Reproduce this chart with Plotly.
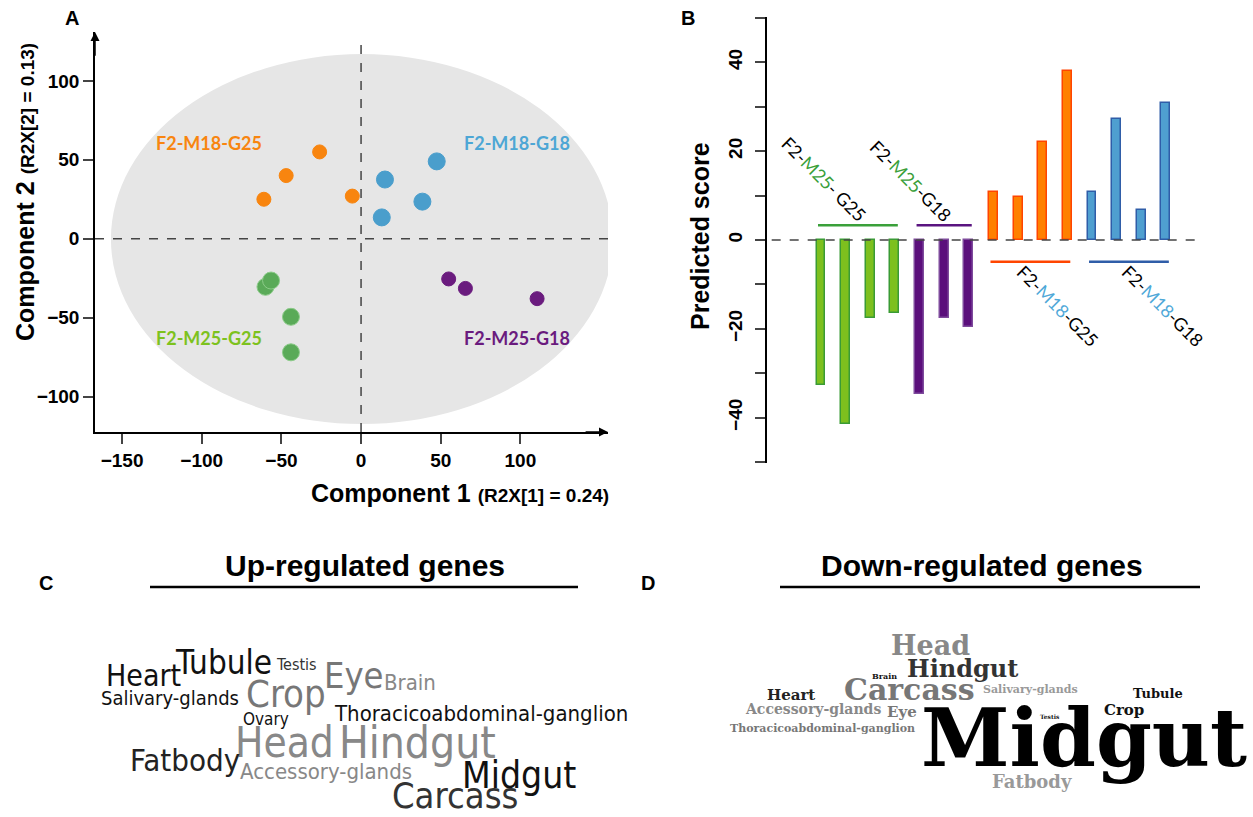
import plotly.graph_objects as go

# ---------------- Panel A data (PCA scores) ----------------
m18g25_c1 = [-61, -47, -26, -5.5]
m18g25_c2 = [25, 40, 55, 27]
m18g18_c1 = [15, 13, 38.5, 47.5]
m18g18_c2 = [37.5, 13.5, 23.5, 49]
m25g25_c1 = [-60, -56.5, -44, -44]
m25g25_c2 = [-30.5, -26.5, -49.5, -72]
m25g18_c1 = [55, 65.5, 110.5]
m25g18_c2 = [-25.5, -31.5, -38]
a_x_ticks = [-150, -100, -50, 0, 50, 100]
a_y_ticks = [-100, -50, 0, 50, 100]

# ---------------- Panel B data (predicted scores) ----------------
pred_m25g25 = [-32.7, -41.5, -17.5, -16.4]
pred_m25g18 = [-34.7, -17.5, -19.6]
pred_m18g25 = [10.7, 9.7, 22.0, 38.0]
pred_m18g18 = [10.7, 27.3, 6.7, 30.9]
b_y_ticks = [-50, -40, -30, -20, -10, 0, 10, 20, 30, 40, 50]
b_y_labels = ["", "\u221240", "", "\u221220", "", "0", "", "20", "", "40", ""]

# ---------------- Panel C / D data (word clouds) ----------------
up_words = ["Heart", "Tubule", "Testis", "Eye", "Brain", "Salivary-glands", "Crop", "Ovary",
            "Thoracicoabdominal-ganglion", "Head", "Hindgut", "Fatbody", "Accessory-glands",
            "Midgut", "Carcass"]
up_weights = [30, 33, 16, 36, 22, 20, 38, 17, 22, 42, 44, 31, 22, 37, 36]
down_words = ["Head", "Hindgut", "Brain", "Carcass", "Salivary-glands", "Tubule", "Heart",
              "Accessory-glands", "Eye", "Testis", "Crop", "Thoracicoabdominal-ganglion",
              "Midgut", "Fatbody"]
down_weights = [27, 24, 8, 30, 11, 13, 15, 14, 15, 6, 15, 11, 80, 18]

# ---------------- styles / layout ----------------
W, H = 1253, 817
def px(x, y):
    return x / W, 1 - y / H

ORANGE, BLUE, GREEN, PURPLE = "#F8850F", "#4A9ECC", "#5AAA58", "#6A1B7E"
ARIAL = "Arial, Liberation Sans, sans-serif"
CAL = "Lato, Open Sans, sans-serif"

fig = go.Figure()

# Panel A scatter
for xs, ys, col, size, lc in [
    (m18g25_c1, m18g25_c2, ORANGE, 14, ORANGE),
    (m18g18_c1, m18g18_c2, BLUE, 17, BLUE),
    (m25g25_c1, m25g25_c2, GREEN, 17, "#8CCB89"),
    (m25g18_c1, m25g18_c2, PURPLE, 14, PURPLE),
]:
    fig.add_trace(go.Scatter(x=xs, y=ys, mode="markers", xaxis="x", yaxis="y",
                             marker=dict(color=col, size=size, line=dict(color=lc, width=1)),
                             hoverinfo="skip"))

# Panel B bars
b_groups = [
    (pred_m25g25, "#7DC01E", "#3A9B35"),
    (pred_m25g18, "#5B0F7C", "#7E4A9C"),
    (pred_m18g25, "#FF8000", "#FF4500"),
    (pred_m18g18, "#4F9FD0", "#2F5DA8"),
]
group_lines = ["#3AA03A", "#5A1480", "#FF4500", "#2F5DA8"]
pos = 1
group_ranges = []
for vals, fillc, linec in b_groups:
    xs = list(range(pos, pos + len(vals)))
    group_ranges.append((xs[0], xs[-1]))
    pos += len(vals)
    fig.add_trace(go.Bar(x=xs, y=vals, xaxis="x2", yaxis="y2", width=0.36,
                         marker=dict(color=fillc, line=dict(color=linec, width=1.5)),
                         hoverinfo="skip"))

shapes = []
# ellipse (Hotelling T2)
shapes.append(dict(type="circle", xref="x", yref="y", x0=-157, x1=158, y0=-117.5, y1=117,
                   fillcolor="#E6E6E6", line=dict(width=0), layer="below"))
shapes.append(dict(type="line", xref="x", yref="y", x0=0, x1=0, y0=-122.5, y1=126,
                   line=dict(color="#444", width=1.5, dash="dash")))
shapes.append(dict(type="line", xref="x", yref="y", x0=-167, x1=155, y0=0, y1=0,
                   line=dict(color="#444", width=1.5, dash="dash")))
# panel B zero line
shapes.append(dict(type="line", xref="x2", yref="y2", x0=-1.0, x1=16.4, y0=0, y1=0,
                   line=dict(color="#444", width=1.5, dash="dash")))
# group lines
for (a, b), col, yv in zip(group_ranges, group_lines, [3.3, 3.3, -4.9, -4.9]):
    shapes.append(dict(type="line", xref="x2", yref="y2", x0=a - 0.12, x1=b + 0.12, y0=yv, y1=yv,
                       line=dict(color=col, width=2.5)))
# title underlines
for x0, x1 in [(150, 578), (780, 1200)]:
    shapes.append(dict(type="line", xref="paper", yref="paper",
                       x0=x0 / W, x1=x1 / W, y0=1 - 587 / H, y1=1 - 587 / H,
                       line=dict(color="black", width=2.5)))

ann = []
def A(x, y, text, size, color="black", family=ARIAL, angle=0, xanchor="center", yanchor="middle", weight=None):
    px_, py_ = px(x, y)
    f = dict(size=size, color=color, family=family)
    if weight:
        f["weight"] = weight
    ann.append(dict(x=px_, y=py_, xref="paper", yref="paper", text=text, showarrow=False,
                    font=f, textangle=angle, xanchor=xanchor, yanchor=yanchor))

# panel letters
A(72, 18, "<b>A</b>", 20)
A(688, 18, "<b>B</b>", 20)
A(46, 583, "<b>C</b>", 20)
A(648, 583, "<b>D</b>", 20)

# Panel A axis titles
A(460, 493, "<b>Component 1</b> <span style='font-size:19px'><b>(R2X[1] = 0.24)</b></span>", 25)
A(25, 192, "<b>Component 2</b> <span style='font-size:19px'><b>(R2X[2] = 0.13)</b></span>", 25, angle=-90)

# Panel A group labels
A(209, 143, "<b>F2-M18-G25</b>", 18, ORANGE, CAL)
A(517, 143, "<b>F2-M18-G18</b>", 18, "#4DA6D5", CAL)
A(209, 338, "<b>F2-M25-G25</b>", 18, "#7DC21E", CAL)
A(517, 338, "<b>F2-M25-G18</b>", 18, PURPLE, CAL)

# Panel B axis title
A(700, 236, "<b>Predicted score</b>", 25, angle=-90)

# Panel B rotated group labels
G = "#3AA03A"; LB = "#4FA8D8"
A(824, 179, f"F2-<span style='color:{G}'>M25</span>- G25", 18, "black", CAL, angle=45)
A(911, 181, f"F2-<span style='color:{G}'>M25</span>-G18", 18, "black", CAL, angle=45)
A(1058, 306, f"F2-<span style='color:{LB}'>M18</span>-G25", 18, "black", CAL, angle=45)
A(1163, 306, f"F2-<span style='color:{LB}'>M18</span>-G18", 18, "black", CAL, angle=45)

# word cloud titles
A(365, 565, "<b>Up-regulated genes</b>", 30)
A(982, 565, "<b>Down-regulated genes</b>", 30)

# word cloud C
COND = "Liberation Sans Narrow, Arial Narrow, DejaVu Sans Condensed, sans-serif"
up_pos = [(143, 675), (223, 662), (296, 664), (354, 675), (410, 682), (170, 698), (286, 694),
          (266, 719), (481, 713), (284, 742), (417, 742), (185, 760), (326, 771), (519, 775), (455, 795)]
up_cols = ["#111", "#111", "#333", "#777", "#888", "#111", "#777", "#111", "#111", "#888",
           "#888", "#222", "#888", "#111", "#333"]
for w, s, (x, y), c in zip(up_words, up_weights, up_pos, up_cols):
    A(x, y, w, s, c, COND)

# word cloud D
SLAB = "DejaVu Serif, serif"
down_pos = [(930, 645), (962, 668), (885, 676), (909, 689), (1030, 689), (1158, 693), (791, 695),
            (813, 709), (902, 712), (1050, 716), (1124, 710), (822, 728), (1084, 738), (1032, 781)]
down_cols = ["#888", "#333", "#111", "#777", "#999", "#111", "#222", "#888", "#777", "#111",
             "#111", "#777", "#000", "#999"]
for w, s, (x, y), c in zip(down_words, down_weights, down_pos, down_cols):
    A(x, y, w, s, c, SLAB, weight="bold")

# axis arrows
ann.append(dict(x=155, y=-122.5, ax=140, ay=-122.5, xref="x", yref="y", axref="x", ayref="y",
                text="", showarrow=True, arrowhead=2, arrowsize=1.2, arrowwidth=1.5, arrowcolor="black"))
ann.append(dict(x=-167, y=131, ax=-167, ay=115, xref="x", yref="y", axref="x", ayref="y",
                text="", showarrow=True, arrowhead=2, arrowsize=1.2, arrowwidth=1.5, arrowcolor="black"))

tickfont = dict(family=ARIAL, size=19, color="black", weight="bold")
fig.update_layout(
    width=W, height=H, margin=dict(l=0, r=0, t=0, b=0),
    paper_bgcolor="white", plot_bgcolor="rgba(0,0,0,0)", showlegend=False,
    xaxis=dict(domain=[95 / W, 608 / W], range=[-167, 155], tickvals=a_x_ticks,
               showline=True, linecolor="black", linewidth=1.5, ticks="outside", ticklen=10,
               tickwidth=1.5, showgrid=False, zeroline=False, tickfont=tickfont, anchor="y"),
    yaxis=dict(domain=[1 - 432 / H, 1 - 32 / H], range=[-122.5, 131], tickvals=a_y_ticks,
               showline=True, linecolor="black", linewidth=1.5, ticks="outside", ticklen=10,
               tickwidth=1.5, showgrid=False, zeroline=False, tickfont=tickfont, anchor="x"),
    xaxis2=dict(domain=[767 / W, 1210 / W], range=[-1.19, 16.79], visible=False, anchor="y2"),
    yaxis2=dict(domain=[1 - 463 / H, 1 - 17 / H], range=[-50.2, 50.2], tickvals=b_y_ticks,
                ticktext=b_y_labels, tickangle=-90, showline=True, linecolor="black", linewidth=1.5,
                ticks="outside", ticklen=10, tickwidth=1.5, showgrid=False, zeroline=False,
                tickfont=tickfont, ticklabelstandoff=6, anchor="x2"),
    shapes=shapes, annotations=ann, bargap=0,
)

fig.write_html("out.html", config={"displayModeBar": False},
               post_script="document.body.style.margin='0';")
